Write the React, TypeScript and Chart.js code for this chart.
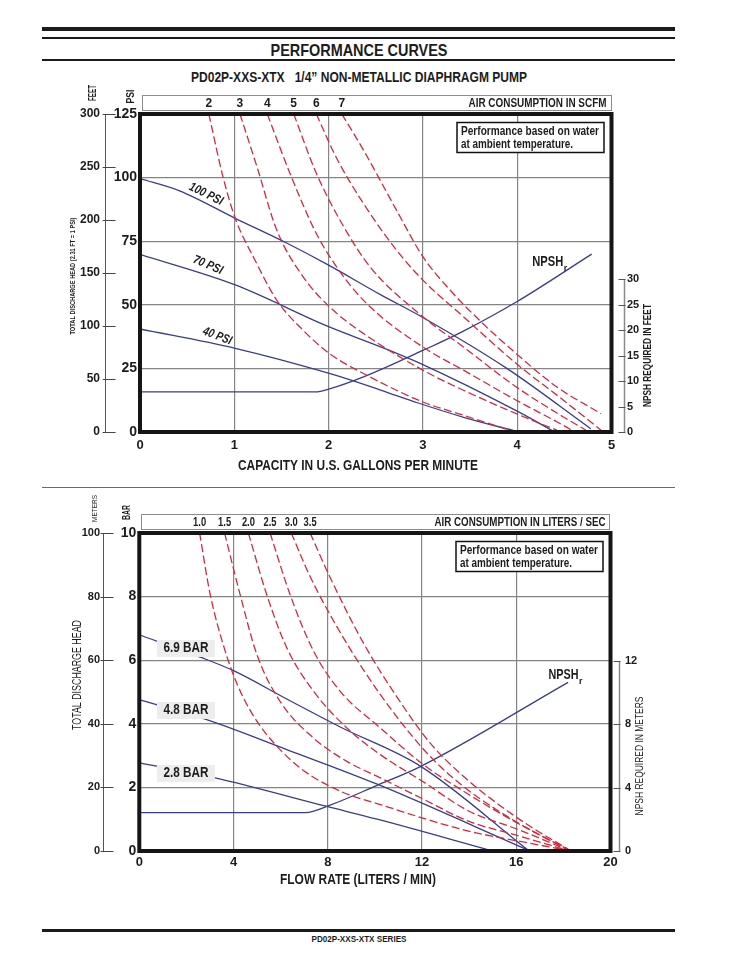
import React, { useEffect, useLayoutEffect, useRef } from "react";
import { Chart, registerables } from "chart.js";

Chart.register(...registerables);

const FONT = '"Liberation Sans", Arial, Helvetica, sans-serif';
const INK = "#1c1c1c";
const BLUE = "#383d8e";
const RED = "#d22a3c";
const GRID = "#858585";

// ---------------- Chart 1 : U.S. units ----------------
const gpmTicks = [0, 1, 2, 3, 4, 5];
const psiTicks = [0, 25, 50, 75, 100, 125];
const feetTicks = [0, 50, 100, 150, 200, 250, 300];
const npshFeetTicks = [0, 5, 10, 15, 20, 25, 30];
const scfmLabels = ["2", "3", "4", "5", "6", "7"];
const psiLineLabels = ["100 PSI", "70 PSI", "40 PSI"];

const psi100 = [[0, 99.6], [0.42, 94.8], [1.01, 84], [1.56, 74.2], [2.0, 65.6], [2.55, 54], [3.0, 45], [3.89, 25], [4.78, 1.3]];
const psi70 = [[0, 69.8], [1.01, 57.8], [2.0, 41.4], [2.55, 33.5], [3.0, 26.5], [4.01, 8], [4.37, 0.6]];
const psi40 = [[0, 40.5], [1.01, 32.9], [2.0, 23.1], [2.55, 16.5], [2.95, 11.4], [3.45, 5.6], [4.0, 0.2]];
const npshFeet = [[0, 7.86], [1.86, 7.86], [2.01, 8.45], [2.37, 10.8], [3.0, 16.0], [3.43, 19.8], [3.99, 25.5], [4.79, 34.9]];

const scfm2 = [[0.73, 125], [0.88, 100.3], [1.01, 84], [1.22, 67.5], [1.45, 51.8], [1.73, 40], [2.01, 30.8], [2.37, 23], [3.0, 11.8], [3.43, 6.6], [3.92, 0.7]];
const scfm3 = [[1.06, 125], [1.24, 104.3], [1.45, 79.4], [1.73, 61], [2.01, 49.2], [2.37, 38.7], [3.0, 24.3], [3.43, 16.4], [3.99, 7.2], [4.42, 0.7]];
const scfm4 = [[1.35, 125], [1.59, 101.7], [1.87, 78], [2.16, 61], [2.44, 49.2], [3.0, 33.4], [3.43, 24.3], [3.99, 12.5], [4.49, 2.6], [4.6, 0.2]];
const scfm5 = [[1.63, 125], [1.87, 101.7], [2.16, 80.7], [2.44, 64.9], [3.0, 45.3], [3.43, 33.4], [3.99, 17.7], [4.49, 5.9], [4.73, 0.7]];
const scfm6 = [[1.87, 125], [2.08, 108], [2.37, 89.8], [2.72, 71.5], [3.0, 59.7], [3.43, 45.3], [3.99, 26.9], [4.49, 12.5], [4.89, 0.7]];
const scfm7 = [[2.14, 125], [2.37, 110.8], [2.72, 87.2], [3.0, 68.9], [3.29, 55.7], [3.6, 43.9], [3.99, 30.8], [4.42, 17.7], [4.89, 7.2]];

// ---------------- Chart 2 : metric units ----------------
const lpmTicks = [0, 4, 8, 12, 16, 20];
const barTicks = [0, 2, 4, 6, 8, 10];
const meterTicks = [0, 20, 40, 60, 80, 100];
const npshMeterTicks = [0, 4, 8, 12];
const lpsLabels = ["1.0", "1.5", "2.0", "2.5", "3.0", "3.5"];
const barLineLabels = ["6.9 BAR", "4.8 BAR", "2.8 BAR"];

const bar69 = [[0, 6.8], [2.65, 6.08], [4.0, 5.67], [6.26, 4.78], [8.53, 3.9], [11.93, 2.67], [16.5, 0.03]];
const bar48 = [[0, 4.76], [2.86, 4.13], [6.26, 3.19], [10.1, 2.1], [16.5, 0.03]];
const bar28 = [[0, 2.77], [3.22, 2.3], [7.96, 1.4], [10.1, 1.0], [14.9, 0.02]];
const npshMeters = [[0, 2.42], [7.04, 2.42], [8.1, 2.9], [10.1, 4.15], [11.93, 5.33], [18.2, 10.65]];

const lps10 = [[2.56, 10], [3.0, 8.1], [3.64, 6.3], [4.14, 5.27], [4.7, 4.43], [5.41, 3.66], [6.83, 2.61], [8.53, 1.88], [10.23, 1.46], [13.8, 0.66], [16.6, 0.24], [18.2, 0.02]];
const lps15 = [[3.62, 10], [4.28, 8.06], [4.99, 6.18], [5.98, 4.7], [7.4, 3.55], [8.81, 2.82], [10.23, 2.3], [12, 1.65], [14, 0.93], [16, 0.5], [18.2, 0.02]];
const lps20 = [[4.63, 10], [5.41, 8.06], [6.26, 6.39], [7.4, 5.02], [8.81, 3.87], [10.23, 3.03], [12, 2.2], [14, 1.25], [16, 0.7], [18.2, 0.03]];
const lps25 = [[5.55, 10], [6.4, 8.06], [7.4, 6.28], [8.53, 5.02], [10.23, 3.87], [12, 2.75], [14, 1.77], [16, 0.9], [18.2, 0.04]];
const lps30 = [[6.45, 10], [7.25, 8.63], [8.39, 7.05], [9.52, 5.69], [10.93, 4.22], [12.35, 2.97], [13.77, 2.02], [15.18, 1.29], [16.6, 0.66], [18.2, 0.05]];
const lps35 = [[7.25, 10], [8.1, 8.6], [9.52, 6.53], [10.93, 4.85], [12.35, 3.39], [13.77, 2.34], [15.18, 1.5], [16.6, 0.77], [18.2, 0.06]];

// ---------------- helpers ----------------
function series(pts: number[][], color: string, dashed: boolean, axis = "y") {
  return {
    data: pts.map(([x, y]) => ({ x, y })),
    borderColor: color,
    borderWidth: 1.3,
    borderDash: dashed ? [8, 3.5] : [],
    pointRadius: 0,
    cubicInterpolationMode: "monotone",
    fill: false,
    yAxisID: axis,
  };
}

function decorPlugin(o: any) {
  return {
    id: "decor",
    afterDraw(chart: any) {
      const { ctx, chartArea: a, scales } = chart;
      const xs = scales.x, ys = scales.y, outer = scales.yOuter, rs = scales.yRight;
      const seg = (x1: number, y1: number, x2: number, y2: number) => {
        ctx.beginPath(); ctx.moveTo(x1, y1); ctx.lineTo(x2, y2); ctx.stroke();
      };
      // text drawn at a given width (condensed like the original typeface)
      const text = (s: string, x: number, y: number, font: string, width: number | null, align = "center", rot = 0) => {
        ctx.save();
        ctx.font = font;
        const w0 = ctx.measureText(s).width;
        ctx.translate(x, y); ctx.rotate(rot);
        if (width) ctx.scale(width / w0, 1);
        ctx.fillStyle = INK; ctx.textAlign = align; ctx.textBaseline = "middle";
        ctx.fillText(s, 0, 0);
        ctx.restore();
      };
      ctx.save();
      // outer left axis tick marks
      ctx.strokeStyle = "#444"; ctx.lineWidth = 1;
      outer.ticks.forEach((t: any) => {
        const y = Math.round(outer.getPixelForValue(t.value)) + 0.5;
        seg(outer.right - 3, y, outer.right + 10, y);
      });
      // right NPSH axis
      const rx = Math.round(a.right + o.rightGap) + 0.5;
      const yb = rs.getPixelForValue(o.rightTicks[0]);
      const yt = rs.getPixelForValue(o.rightTicks[o.rightTicks.length - 1]);
      ctx.strokeStyle = "#8a8a8a"; ctx.lineWidth = 1.5; seg(rx, yb, rx, yt);
      ctx.strokeStyle = "#555"; ctx.lineWidth = 1;
      o.rightTicks.forEach((v: number) => {
        const y = Math.round(rs.getPixelForValue(v)) + 0.5;
        seg(rx - 6, y, rx + 1, y);
      });
      text(o.rightTitle, a.right + o.rightTitleGap, (yb + yt) / 2, o.rightTitleFont, o.rightTitleW, "center", -Math.PI / 2);
      // top air consumption strip
      const bx = a.left + 2, by = a.top - 19, bw = a.right - 1 - bx, bh = 15;
      ctx.strokeStyle = "#8c8c8c"; ctx.lineWidth = 1;
      ctx.strokeRect(Math.round(bx) + 0.5, Math.round(by) + 0.5, Math.round(bw), bh);
      o.topLabels.forEach((lab: string, i: number) =>
        text(lab, xs.getPixelForValue(o.topSeries[i][0][0]), by + bh / 2 + 1, `bold 12px ${FONT}`, o.topLabelW));
      text(o.topTitle, bx + bw - 4, by + bh / 2 + 1, `bold 12px ${FONT}`, o.topTitleW, "right");
      // line labels
      o.lineLabels.forEach((l: any) => {
        const x = xs.getPixelForValue(l.x), y = ys.getPixelForValue(l.y);
        if (l.boxed) { ctx.fillStyle = "#ededed"; ctx.fillRect(x - 29, y - 8.5, 58, 17); }
        text(l.text, x, y, o.lineLabelFont, l.w, "center", (l.rot * Math.PI) / 180);
      });
      // NPSHr label
      const nx = xs.getPixelForValue(o.npsh.x), ny = ys.getPixelForValue(o.npsh.y);
      text("NPSH", nx, ny, `bold 15px ${FONT}`, o.npsh.w, "left");
      text("r", nx + o.npsh.w + 0.5, ny + 6, `bold 9px ${FONT}`, null, "left");
      // frame
      ctx.strokeStyle = "#151515"; ctx.lineWidth = 4;
      ctx.strokeRect(a.left, a.top, a.right - a.left, a.bottom - a.top);
      // performance note
      const pw = 147, ph = 30, px = a.right - 7.5 - pw, py = a.top + 8.5;
      ctx.fillStyle = "#fff"; ctx.fillRect(px, py, pw, ph);
      ctx.strokeStyle = "#111"; ctx.lineWidth = 1.5; ctx.strokeRect(px, py, pw, ph);
      text("Performance based on water", px + 4, py + 9, `bold 12px ${FONT}`, 138, "left");
      text("at ambient temperature.", px + 4, py + 22, `bold 12px ${FONT}`, 112, "left");
      // unit labels and titles
      text(o.outerUnit, outer.right + o.outerUnitDx, a.top + o.outerUnitDy, o.outerUnitFont, o.outerUnitW, "center", -Math.PI / 2);
      text(o.innerUnit, a.left + o.innerUnitDx, a.top + o.innerUnitDy, o.innerUnitFont, o.innerUnitW, "center", -Math.PI / 2);
      text(o.leftTitle, o.leftTitleX, o.leftTitleY, o.leftTitleFont, o.leftTitleW, "center", -Math.PI / 2);
      text(o.xTitle, o.xTitleX, o.xTitleY, `bold 14.5px ${FONT}`, o.xTitleW);
      ctx.restore();
    },
  };
}

function buildConfig(s: any) {
  const tf = (size: number) => ({ family: FONT, size, weight: "bold" });
  const fix = (vals: number[]) => (sc: any) => { sc.ticks = vals.map((v) => ({ value: v })); };
  return {
    type: "line",
    data: { datasets: s.datasets },
    options: {
      responsive: false,
      maintainAspectRatio: false,
      animation: false,
      events: [],
      layout: { padding: { top: s.padTop, left: 0, right: 0, bottom: 0 } },
      plugins: { legend: { display: false }, tooltip: { enabled: false } },
      scales: {
        x: {
          type: "linear", min: 0, max: s.xMax, afterBuildTicks: fix(s.xTicks),
          afterFit: (sc: any) => { sc.height = s.xH; },
          grid: { color: GRID, lineWidth: 1.2, drawTicks: false }, border: { display: false },
          ticks: { font: tf(13), color: INK, padding: s.xPad, maxRotation: 0, autoSkip: false },
        },
        y: {
          type: "linear", position: "left", weight: 0, min: 0, max: s.yMax, afterBuildTicks: fix(s.yTicks),
          afterFit: (sc: any) => { sc.width = s.innerW; },
          grid: { color: GRID, lineWidth: 1.2, drawTicks: false }, border: { display: false },
          ticks: { font: tf(14), color: INK, padding: 3, autoSkip: false },
        },
        yOuter: {
          type: "linear", position: "left", weight: 1, min: 0, max: s.outerMax, afterBuildTicks: fix(s.outerTicks),
          afterFit: (sc: any) => { sc.width = s.outerW; },
          grid: { display: false, drawOnChartArea: false, drawTicks: false },
          border: { display: true, color: "#555", width: 1 },
          ticks: { font: tf(s.outerFont), color: INK, padding: s.outerPad, autoSkip: false },
        },
        yRight: {
          type: "linear", position: "right", min: 0, max: s.rightMax, afterBuildTicks: fix(s.rightTicks),
          afterFit: (sc: any) => { sc.width = s.rightW; },
          grid: { display: false, drawOnChartArea: false, drawTicks: false }, border: { display: false },
          ticks: { font: tf(11), color: INK, padding: s.rightPad, autoSkip: false },
        },
      },
    },
    plugins: [decorPlugin(s.decor)],
  };
}

const scfmSeries = [scfm2, scfm3, scfm4, scfm5, scfm6, scfm7];
const lpsSeries = [lps10, lps15, lps20, lps25, lps30, lps35];

const chart1 = () => buildConfig({
  datasets: [
    ...scfmSeries.map((p) => series(p, RED, true)),
    series(psi100, BLUE, false), series(psi70, BLUE, false), series(psi40, BLUE, false),
    series(npshFeet, BLUE, false, "yRight"),
  ],
  padTop: 34, xH: 48, xPad: 6, xMax: 5, xTicks: gpmTicks,
  yMax: 125, yTicks: psiTicks, innerW: 34.4,
  outerMax: 300, outerTicks: feetTicks, outerW: 105.6, outerFont: 12, outerPad: 5.6,
  rightMax: 62.4, rightTicks: npshFeetTicks, rightW: 131.5, rightPad: 15.5,
  decor: {
    rightGap: 12.1, rightTicks: npshFeetTicks, rightTitle: "NPSH REQUIRED IN FEET", rightTitleGap: 37,
    rightTitleFont: `bold 10.5px ${FONT}`, rightTitleW: 103,
    topLabels: scfmLabels, topSeries: scfmSeries, topLabelW: null,
    topTitle: "AIR CONSUMPTION IN SCFM", topTitleW: 138,
    outerUnit: "FEET", outerUnitFont: `bold 10px ${FONT}`, outerUnitW: 16, outerUnitDx: -12.6, outerUnitDy: -21,
    innerUnit: "PSI", innerUnitFont: `bold 10.5px ${FONT}`, innerUnitW: 14, innerUnitDx: -9, innerUnitDy: -17.5,
    leftTitle: "TOTAL DISCHARGE HEAD (2.31 FT = 1 PSI)", leftTitleFont: `bold 6.5px ${FONT}`, leftTitleW: 117,
    leftTitleX: 73, leftTitleY: 196,
    xTitle: "CAPACITY IN U.S. GALLONS PER MINUTE", xTitleX: 358, xTitleY: 386, xTitleW: 240,
    lineLabelFont: `italic bold 12.5px ${FONT}`,
    lineLabels: [
      { text: psiLineLabels[0], x: 0.7, y: 93.5, rot: 26, w: 36, boxed: false },
      { text: psiLineLabels[1], x: 0.72, y: 65.6, rot: 23, w: 31, boxed: false },
      { text: psiLineLabels[2], x: 0.82, y: 37.7, rot: 21, w: 30, boxed: false },
    ],
    npsh: { x: 4.16, y: 66.8, w: 31 },
  },
});

const chart2 = () => buildConfig({
  datasets: [
    ...lpsSeries.map((p) => series(p, RED, true)),
    series(bar69, BLUE, false), series(bar48, BLUE, false), series(bar28, BLUE, false),
    series(npshMeters, BLUE, false, "yRight"),
  ],
  padTop: 38, xH: 44, xPad: 4, xMax: 20, xTicks: lpmTicks,
  yMax: 10, yTicks: barTicks, innerW: 35.8,
  outerMax: 100, outerTicks: meterTicks, outerW: 103.5, outerFont: 11, outerPad: 3.5,
  rightMax: 20.08, rightTicks: npshMeterTicks, rightW: 132.5, rightPad: 14.5,
  decor: {
    rightGap: 8.8, rightTicks: npshMeterTicks, rightTitle: "NPSH REQUIRED IN METERS", rightTitleGap: 29.5,
    rightTitleFont: `11.5px ${FONT}`, rightTitleW: 119,
    topLabels: lpsLabels, topSeries: lpsSeries, topLabelW: 13,
    topTitle: "AIR CONSUMPTION IN LITERS / SEC", topTitleW: 171,
    outerUnit: "METERS", outerUnitFont: `8px ${FONT}`, outerUnitW: 27, outerUnitDx: -8.5, outerUnitDy: -24.5,
    innerUnit: "BAR", innerUnitFont: `bold 10.5px ${FONT}`, innerUnitW: 15, innerUnitDx: -11.8, innerUnitDy: -20.5,
    leftTitle: "TOTAL DISCHARGE HEAD", leftTitleFont: `12px ${FONT}`, leftTitleW: 110, leftTitleX: 77.5, leftTitleY: 180,
    xTitle: "FLOW RATE (LITERS / MIN)", xTitleX: 358, xTitleY: 385, xTitleW: 156,
    lineLabelFont: `bold 14.5px ${FONT}`,
    lineLabels: [
      { text: barLineLabels[0], x: 1.98, y: 6.37, rot: 0, w: 45, boxed: true },
      { text: barLineLabels[1], x: 1.98, y: 4.42, rot: 0, w: 45, boxed: true },
      { text: barLineLabels[2], x: 1.98, y: 2.44, rot: 0, w: 45, boxed: true },
    ],
    npsh: { x: 17.37, y: 5.53, w: 30 },
  },
});

function PerfChart({ build, top, height }: { build: () => any; top: number; height: number }) {
  const ref = useRef<HTMLCanvasElement>(null);
  useEffect(() => {
    const chart = new Chart(ref.current as HTMLCanvasElement, build());
    return () => chart.destroy();
  }, []);
  return (
    <canvas ref={ref} width={743} height={height}
      style={{ position: "absolute", left: 0, top, width: 743, height, display: "block" }} />
  );
}

function FitText({ text, width, top, size, lh }: { text: string; width: number; top: number; size: number; lh: number }) {
  const ref = useRef<HTMLSpanElement>(null);
  useLayoutEffect(() => {
    const el = ref.current as HTMLSpanElement;
    const w = el.getBoundingClientRect().width;
    el.style.transform = `scaleX(${width / w}) translateX(-50%)`;
  }, []);
  return (
    <span ref={ref} style={{
      position: "absolute", left: 358.5, top, fontSize: size, lineHeight: `${lh}px`, fontFamily: FONT,
      fontWeight: "bold", color: INK, whiteSpace: "pre", transformOrigin: "0 0", display: "inline-block",
    }}>{text}</span>
  );
}

const rule = (top: number, h: number, color = "#1a1a1a"): React.CSSProperties => ({
  position: "absolute", left: 42, width: 633, top, height: h, background: color,
});

export default function App() {
  return (
    <div style={{ position: "absolute", left: 0, top: 0, width: 743, height: 961, overflow: "hidden", background: "#fff" }}>
      <div style={rule(27, 4)} />
      <div style={rule(37, 2)} />
      <FitText text="PERFORMANCE CURVES" width={177} top={41} size={16.5} lh={18} />
      <div style={rule(59, 2)} />
      <FitText text={"PD02P-XXS-XTX   1/4\u201D NON-METALLIC DIAPHRAGM PUMP"} width={336} top={69} size={14.5} lh={16} />
      <PerfChart build={chart1} top={80} height={400} />
      <div style={rule(487, 1, "#6a6a6a")} />
      <PerfChart build={chart2} top={495} height={400} />
      <div style={rule(929, 3)} />
      <FitText text="PD02P-XXS-XTX SERIES" width={95} top={934} size={9} lh={11} />
    </div>
  );
}
